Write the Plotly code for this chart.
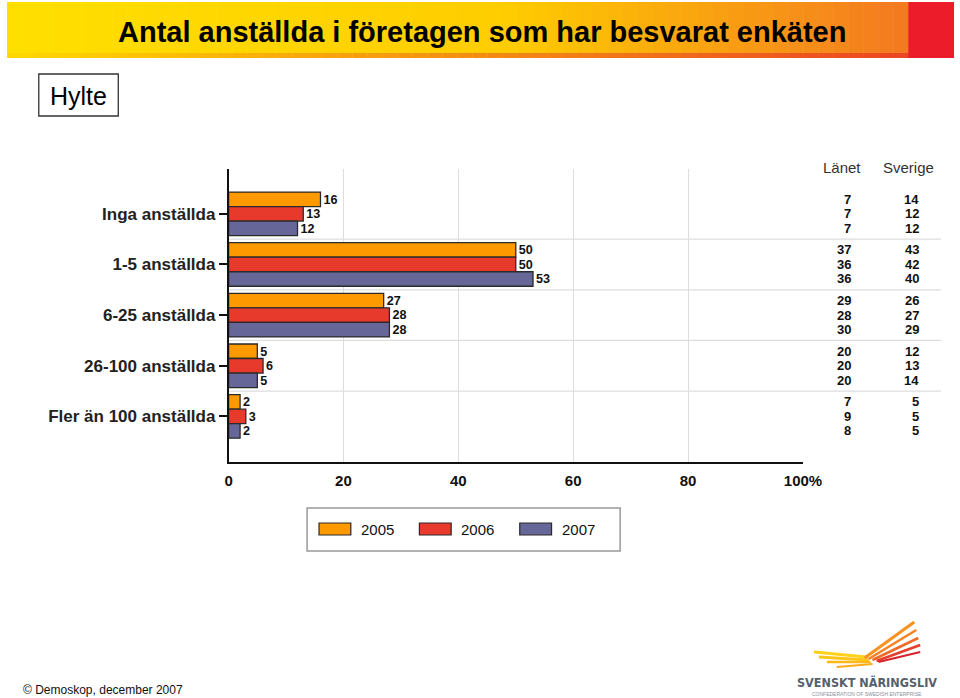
import plotly.graph_objects as go

# ---------------- data ----------------
categories = ["Inga anställda", "1-5 anställda", "6-25 anställda", "26-100 anställda", "Fler än 100 anställda"]
years = ["2005", "2006", "2007"]
hylte_2005 = [16, 50, 27, 5, 2]
hylte_2006 = [13, 50, 28, 6, 3]
hylte_2007 = [12, 53, 28, 5, 2]
lanet_2005 = [7, 37, 29, 20, 7]
lanet_2006 = [7, 36, 28, 20, 9]
lanet_2007 = [7, 36, 30, 20, 8]
sverige_2005 = [14, 43, 26, 12, 5]
sverige_2006 = [12, 42, 27, 13, 5]
sverige_2007 = [12, 40, 29, 14, 5]
x_ticks = [0, 20, 40, 60, 80, 100]
x_ticktext = ["0", "20", "40", "60", "80", "100%"]

colors = ["#FF9900", "#E8392D", "#666699"]
hylte = [hylte_2005, hylte_2006, hylte_2007]
lanet = [lanet_2005, lanet_2006, lanet_2007]
sverige = [sverige_2005, sverige_2006, sverige_2007]

W, H = 960, 698
FIG_W = 977
FONT = "Liberation Sans, Arial, sans-serif"

def px(x):
    return x / W

def py(y):
    return 1 - y / H

ypos = list(range(len(categories)))
bargap = 0.14
bw = (1 - bargap) / 3
offsets = [-bw, 0, bw]

fig = go.Figure()
for i, yr in enumerate(years):
    fig.add_trace(go.Bar(
        y=ypos, x=hylte[i], orientation="h", name=yr,
        marker=dict(color=colors[i], line=dict(color="#2a2a2a", width=1.3)),
        texttemplate="<b>%{x}</b>", textposition="outside",
        textfont=dict(family=FONT, size=13, color="#111"),
        cliponaxis=False, showlegend=False,
    ))

shapes = []
annotations = []

# banner gradient
x0b, x1b, xr = 3, 910, 956
n = 60
def lerp(c1, c2, t):
    return tuple(int(round(a + (b - a) * t)) for a, b in zip(c1, c2))
yellow = (255, 223, 0)
yellow2 = (255, 205, 0)
orange = (244, 122, 32)
for k in range(n):
    t = k / (n - 1)
    if t < 0.55:
        c = lerp(yellow, yellow2, t / 0.55)
    else:
        c = lerp(yellow2, orange, (t - 0.55) / 0.45)
    xa = x0b + (x1b - x0b) * k / n
    xb = x0b + (x1b - x0b) * (k + 1) / n + 0.6
    shapes.append(dict(type="rect", xref="paper", yref="paper", x0=px(xa), x1=px(xb),
                       y0=py(58), y1=py(2), fillcolor="rgb(%d,%d,%d)" % c, line=dict(width=0), layer="below"))
    c2 = lerp((255, 215, 0), (235, 70, 35), t)
    shapes.append(dict(type="rect", xref="paper", yref="paper", x0=px(xa), x1=px(xb),
                       y0=py(58), y1=py(53), fillcolor="rgb(%d,%d,%d)" % c2, line=dict(width=0), layer="below"))
shapes.append(dict(type="rect", xref="paper", yref="paper", x0=px(x1b), x1=px(xr),
                   y0=py(58), y1=py(2), fillcolor="#EC1C2A", line=dict(width=0), layer="below"))

annotations.append(dict(text="<b>Antal anställda i företagen som har besvarat enkäten</b>",
                        xref="paper", yref="paper", x=px(481), y=py(32), showarrow=False,
                        font=dict(family=FONT, size=29, color="#000"), xanchor="center", yanchor="middle"))

# Hylte box
shapes.append(dict(type="rect", xref="paper", yref="paper", x0=px(35), x1=px(115), y0=py(116), y1=py(74),
                   line=dict(color="#333", width=1.3), fillcolor="white"))
annotations.append(dict(text="Hylte", xref="paper", yref="paper", x=px(75), y=py(96), showarrow=False,
                        font=dict(family=FONT, size=25, color="#000"), xanchor="center", yanchor="middle"))

# horizontal separators between categories (extend into table)
for k in range(len(categories) - 1):
    shapes.append(dict(type="line", xref="paper", yref="y", x0=px(226), x1=px(943), y0=k + 0.5, y1=k + 0.5,
                       line=dict(color="#DDDDDD", width=1.2), layer="below"))

# table header
annotations.append(dict(text="Länet", xref="paper", yref="paper", x=px(843), y=py(168), showarrow=False,
                        font=dict(family=FONT, size=15, color="#333"), xanchor="center", yanchor="middle"))
annotations.append(dict(text="Sverige", xref="paper", yref="paper", x=px(910), y=py(168), showarrow=False,
                        font=dict(family=FONT, size=15, color="#333"), xanchor="center", yanchor="middle"))
for i in range(3):
    for j in range(len(categories)):
        yy = j + offsets[i]
        annotations.append(dict(text="<b>%d</b>" % lanet[i][j], xref="paper", yref="y", x=px(854), y=yy,
                                showarrow=False, xanchor="right", yanchor="middle",
                                font=dict(family=FONT, size=13, color="#111")))
        annotations.append(dict(text="<b>%d</b>" % sverige[i][j], xref="paper", yref="y", x=px(923), y=yy,
                                showarrow=False, xanchor="right", yanchor="middle",
                                font=dict(family=FONT, size=13, color="#111")))

# custom legend
shapes.append(dict(type="rect", xref="paper", yref="paper", x0=px(305), x1=px(620), y0=py(551), y1=py(508),
                   line=dict(color="#999", width=1.5), fillcolor="white"))
leg_x = [317, 418, 519]
for i, yr in enumerate(years):
    shapes.append(dict(type="rect", xref="paper", yref="paper", x0=px(leg_x[i]), x1=px(leg_x[i] + 32),
                       y0=py(535), y1=py(523), fillcolor=colors[i], line=dict(color="#2a2a2a", width=1.2)))
    annotations.append(dict(text=yr, xref="paper", yref="paper", x=px(leg_x[i] + 40), y=py(529.5),
                            showarrow=False, xanchor="left", yanchor="middle",
                            font=dict(family=FONT, size=15, color="#111")))

# footer
annotations.append(dict(text="© Demoskop, december 2007", xref="paper", yref="paper", x=px(17), y=py(690),
                        showarrow=False, xanchor="left", yanchor="middle",
                        font=dict(family=FONT, size=12, color="#111")))

# logo (wing strokes + text)
feathers = [
    ((815, 652), (868, 657), "#FFD21A", 3),
    ((820, 657), (870, 660), "#FFC61A", 3),
    ((828, 662), (872, 662), "#FFB81A", 2.5),
    ((838, 667), (874, 664), "#FFAA1A", 2),
    ((866, 658), (916, 622), "#F7931E", 3),
    ((870, 659), (918, 630), "#F58220", 2.5),
    ((874, 660), (920, 638), "#EF6A24", 2.5),
    ((878, 661), (922, 645), "#E63E2A", 2.5),
    ((880, 662), (922, 652), "#D8232A", 2),
]
for (a, b, col, w) in feathers:
    shapes.append(dict(type="line", xref="paper", yref="paper", x0=px(a[0]), y0=py(a[1]), x1=px(b[0]), y1=py(b[1]),
                       line=dict(color=col, width=w)))
annotations.append(dict(text="<b>SVENSKT NÄRINGSLIV</b>", xref="paper", yref="paper", x=px(868), y=py(682),
                        showarrow=False, xanchor="center", yanchor="middle",
                        font=dict(family="Liberation Sans Narrow, DejaVu Sans Condensed, sans-serif", size=12.5, color="#56606b")))
annotations.append(dict(text="CONFEDERATION OF SWEDISH ENTERPRISE", xref="paper", yref="paper", x=px(868), y=py(693.5),
                        showarrow=False, xanchor="center", yanchor="middle",
                        font=dict(family=FONT, size=5, color="#8a9098")))

fig.update_layout(
    width=FIG_W, height=H, autosize=False,
    margin=dict(l=0, r=0, t=0, b=0),
    paper_bgcolor="white", plot_bgcolor="white",
    barmode="group", bargap=bargap, bargroupgap=0,
    shapes=shapes, annotations=annotations,
    xaxis=dict(domain=[px(226), px(804)], range=[0, 100], tickvals=x_ticks,
               ticktext=["<b>%s</b>" % t for t in x_ticktext],
               showgrid=True, gridcolor="#DDDDDD", gridwidth=1.2, zeroline=False,
               showline=True, linecolor="#111", linewidth=1.5, ticks="",
               tickfont=dict(family=FONT, size=15, color="#111"), ticklabelstandoff=4),
    yaxis=dict(domain=[py(462), py(169)], range=[4.9, -0.885], tickvals=ypos,
               ticktext=["<b>%s</b>" % c for c in categories],
               showgrid=False, zeroline=False, showline=True, linecolor="#111", linewidth=1.5,
               ticks="outside", ticklen=8, tickwidth=1.5, tickcolor="#111",
               tickfont=dict(family=FONT, size=17, color="#222")),
    font=dict(family=FONT),
)

fig.write_html("out.html", config={"responsive": False, "displayModeBar": False},
               post_script="document.body.style.margin='0';document.body.style.overflow='hidden';")
